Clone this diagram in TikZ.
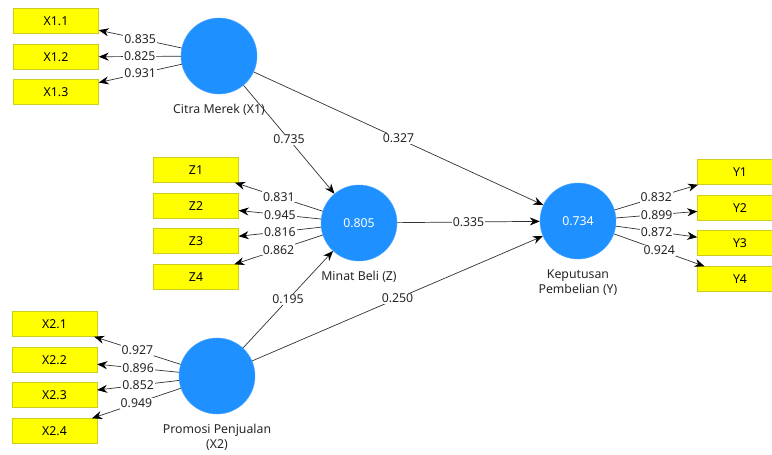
\documentclass[tikz,border=0pt]{standalone}
\usepackage{fontspec}
\setmainfont{Noto Sans}
\usepackage{xcolor}
\usetikzlibrary{positioning,arrows.meta}

\definecolor{lvblue}{RGB}{30,144,255}
\definecolor{mvyellow}{RGB}{255,255,0}
\definecolor{mvborder}{RGB}{205,205,30}
\definecolor{pathgray}{RGB}{50,50,50}

\tikzset{
    latent/.style={circle, fill=lvblue, draw=lvblue!80!white, minimum size=76pt, inner sep=0pt, text=white},
    indicator/.style={rectangle, fill=mvyellow, draw=mvborder, minimum width=85pt, minimum height=25pt, inner sep=0pt},
    loading/.style={draw=pathgray, line width=0.7pt, -{Stealth[length=10pt,width=8pt,black]}},
    coef/.style={fill=white, inner sep=1pt, text=black!85},
    lvname/.style={align=center, inner sep=1pt, text=black!85}
}

\begin{document}
\begin{tikzpicture}[x=1pt, y=-1pt, font=\fontsize{12.3}{15}\selectfont]
    \clip (0,0) rectangle (772,455);
    \fill [white] (0,0) rectangle (772,455);

    % Latent variables
    \node [latent] (citra) at (219,56) {};
    \node [latent] (minat) at (359,223) {0.805};
    \node [latent] (promosi) at (217,376) {};
    \node [latent] (keputusan) at (578,221) {0.734};

    \node [lvname, below=9pt of citra] (citraname) {Citra Merek (X1)};
    \node [lvname, below=9pt of minat] (minatname) {Minat Beli (Z)};
    \node [lvname, below=9pt of promosi] (promosiname) {Promosi Penjualan\\(X2)};
    \node [lvname, below=9pt of keputusan] (keputusanname) {Keputusan\\Pembelian (Y)};

    % Indicators X1
    \node [indicator] (x11) at (56,21) {X1.1};
    \node [indicator] (x12) at (56,57) {X1.2};
    \node [indicator] (x13) at (56,92) {X1.3};

    % Indicators Z
    \node [indicator] (z1) at (196,170) {Z1};
    \node [indicator] (z2) at (196,206) {Z2};
    \node [indicator] (z3) at (196,241) {Z3};
    \node [indicator] (z4) at (196,277) {Z4};

    % Indicators X2
    \node [indicator] (x21) at (54.5,324) {X2.1};
    \node [indicator] (x22) at (54.5,360) {X2.2};
    \node [indicator] (x23) at (54.5,395) {X2.3};
    \node [indicator] (x24) at (54.5,431) {X2.4};

    % Indicators Y
    \node [indicator] (y1) at (740,172) {Y1};
    \node [indicator] (y2) at (740,208) {Y2};
    \node [indicator] (y3) at (740,243) {Y3};
    \node [indicator] (y4) at (740,279) {Y4};

    % Outer loadings
    \draw [loading] (citra) -- node [coef] {0.835} (x11);
    \draw [loading] (citra) -- node [coef] {0.825} (x12);
    \draw [loading] (citra) -- node [coef] {0.931} (x13);

    \draw [loading] (minat) -- node [coef] {0.831} (z1);
    \draw [loading] (minat) -- node [coef] {0.945} (z2);
    \draw [loading] (minat) -- node [coef] {0.816} (z3);
    \draw [loading] (minat) -- node [coef] {0.862} (z4);

    \draw [loading] (promosi) -- node [coef] {0.927} (x21);
    \draw [loading] (promosi) -- node [coef] {0.896} (x22);
    \draw [loading] (promosi) -- node [coef] {0.852} (x23);
    \draw [loading] (promosi) -- node [coef] {0.949} (x24);

    \draw [loading] (keputusan) -- node [coef] {0.832} (y1);
    \draw [loading] (keputusan) -- node [coef] {0.899} (y2);
    \draw [loading] (keputusan) -- node [coef] {0.872} (y3);
    \draw [loading] (keputusan) -- node [coef] {0.924} (y4);

    % Path coefficients
    \draw [loading] (citra) -- node [coef] {0.735} (minat);
    \draw [loading] (citra) -- node [coef] {0.327} (keputusan);
    \draw [loading] (minat) -- node [coef] {0.335} (keputusan);
    \draw [loading] (promosi) -- node [coef] {0.195} (minat);
    \draw [loading] (promosi) -- node [coef] {0.250} (keputusan);
\end{tikzpicture}
\end{document}
